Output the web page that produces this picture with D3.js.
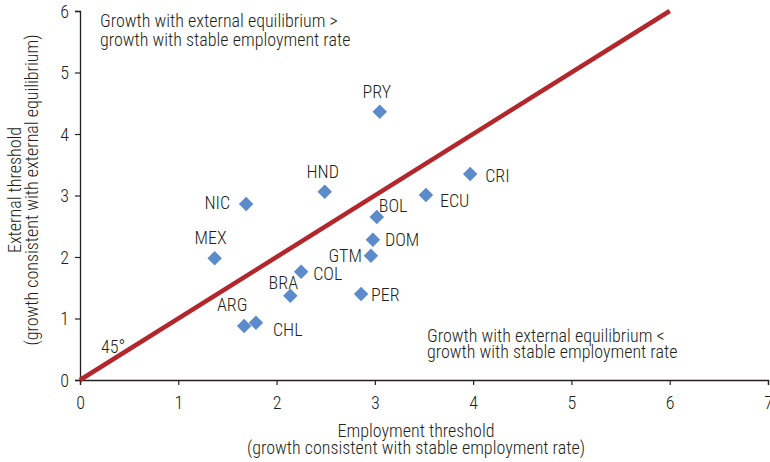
<!DOCTYPE html>
<html>
<head>
<meta charset="utf-8">
<script src="https://cdn.jsdelivr.net/npm/d3@7"></script>
<style>
  body { margin: 0; background: #fff; }
  svg { display: block; }
  text { font-family: "Roboto Condensed", "DejaVu Sans Condensed", sans-serif; font-size: 18px; font-weight: 300; fill: #231f20; }
</style>
</head>
<body>
<div id="chart"></div>
<script>
// country codes and thresholds
const countries = ['PRY', 'HND', 'NIC', 'CRI', 'ECU', 'BOL', 'DOM', 'GTM', 'MEX', 'COL', 'BRA', 'PER', 'ARG', 'CHL'];
const employment = [3.05, 2.49, 1.69, 3.97, 3.52, 3.02, 2.98, 2.96, 1.37, 2.25, 2.14, 2.86, 1.67, 1.79];
const external = [4.36, 3.06, 2.86, 3.35, 3.01, 2.65, 2.28, 2.02, 1.98, 1.76, 1.37, 1.40, 0.88, 0.93];
const xTicks = [0, 1, 2, 3, 4, 5, 6, 7];
const yTicks = [0, 1, 2, 3, 4, 5, 6];
const diagonal = [[0, 0], [6, 6]];

// label offsets from the marker (px): dx, dy, anchor
const labelPos = {
    PRY: [-3, -14, 'middle'], HND: [-2, -14, 'middle'], NIC: [-16, 5, 'end'],
    CRI: [15, 8, 'start'], ECU: [14, 12, 'start'], BOL: [2, -5, 'start'],
    DOM: [12, 6, 'start'], GTM: [-9, 6, 'end'], MEX: [-4, -14, 'middle'],
    COL: [12, 8, 'start'], BRA: [-7, -7, 'middle'], PER: [10, 7, 'start'],
    ARG: [-12, -15, 'middle'], CHL: [17, 13, 'start']
};

const W = 770, H = 462;
const margin = { left: 80, top: 11, right: 2, bottom: 82 };

const svg = d3.select('#chart').append('svg')
    .attr('width', W)
    .attr('height', H);

const x = d3.scaleLinear().domain([0, 7]).range([margin.left, W - margin.right]);
const y = d3.scaleLinear().domain([0, 6]).range([H - margin.bottom, margin.top]);

// axes
const xAxis = svg.append('g')
    .attr('transform', 'translate(0,' + y(0) + ')')
    .call(d3.axisBottom(x).tickValues(xTicks).tickFormat(d3.format('d')).tickSize(5).tickPadding(11));
const yAxis = svg.append('g')
    .attr('transform', 'translate(' + x(0) + ',0)')
    .call(d3.axisLeft(y).tickValues(yTicks).tickFormat(d3.format('d')).tickSize(5).tickPadding(6));

[xAxis, yAxis].forEach(function(g) {
    g.select('.domain').attr('stroke', '#231f20').attr('stroke-width', 1.3);
    g.selectAll('.tick line').attr('stroke', '#231f20').attr('stroke-width', 1.2);
    g.selectAll('.tick text').attr('fill', '#231f20')
        .style('font-size', '18px')
        .style('font-weight', '300')
        .style('font-family', '"Roboto Condensed", "DejaVu Sans Condensed", sans-serif');
});
yAxis.selectAll('.tick text').attr('dy', '0.36em');

// 45 degree line
svg.append('line')
    .attr('x1', x(diagonal[0][0])).attr('y1', y(diagonal[0][1]))
    .attr('x2', x(diagonal[1][0])).attr('y2', y(diagonal[1][1]))
    .attr('stroke', '#b3262b')
    .attr('stroke-width', 4.5);

// markers
const data = countries.map(function(c, i) {
    return { code: c, ex: employment[i], ey: external[i] };
});

const diamond = d3.symbol().type(d3.symbolSquare).size(105);

svg.append('g').selectAll('path')
    .data(data)
    .join('path')
    .attr('d', diamond)
    .attr('transform', function(d) { return 'translate(' + x(d.ex) + ',' + y(d.ey) + ') rotate(45)'; })
    .attr('fill', '#5b8bca');

svg.append('g').selectAll('text')
    .data(data)
    .join('text')
    .attr('x', function(d) { return x(d.ex) + labelPos[d.code][0]; })
    .attr('y', function(d) { return y(d.ey) + labelPos[d.code][1]; })
    .attr('text-anchor', function(d) { return labelPos[d.code][2]; })
    .text(function(d) { return d.code; });

// annotations
function multiline(lines, px, py, lh, anchor) {
    const t = svg.append('text')
        .attr('x', px).attr('y', py)
        .attr('text-anchor', anchor || 'start');
    lines.forEach(function(l, i) {
        t.append('tspan').attr('x', px).attr('dy', i === 0 ? 0 : lh).text(l);
    });
    return t;
}

multiline(['Growth with external equilibrium >', 'growth with stable employment rate'], 100, 27, 18.5);
multiline(['Growth with external equilibrium <', 'growth with stable employment rate'], 427, 342, 16);

svg.append('text')
    .attr('x', 101).attr('y', 353)
    .text('45°');

// axis titles
multiline(['Employment threshold', '(growth consistent with stable employment rate)'],
    416, 437, 16.5, 'middle');

const yt = svg.append('text')
    .attr('transform', 'translate(21,190) rotate(-90)')
    .attr('text-anchor', 'middle');
yt.append('tspan').attr('x', 0).attr('dy', 0).text('External threshold');
yt.append('tspan').attr('x', 0).attr('dy', 17).text('(growth consistent with external equilibrium)');
</script>
</body>
</html>
